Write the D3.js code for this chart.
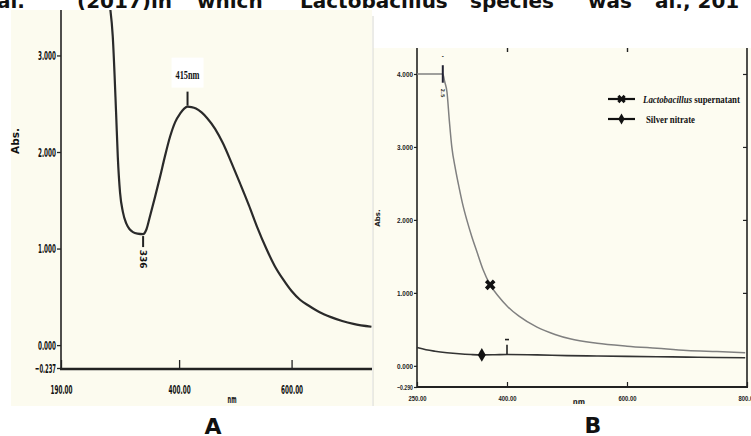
<!DOCTYPE html>
<html>
<head>
<meta charset="utf-8">
<script src="https://cdn.jsdelivr.net/npm/d3@7"></script>
<style>
  body { margin: 0; background: #fff; }
  svg { display: block; }
</style>
</head>
<body>
<div id="chart"></div>
<script>
const width = 751;
const height = 436;

// running text cut off at the top of the page
const captionWords = ["al.", "(2017)in", "which", "Lactobacillus", "species", "was", "al., 201"];

// panel A: UV-vis spectrum of the nanoparticles
const wavelengthA = [276, 282, 288, 291, 295, 300, 306, 312, 318, 326, 336, 342, 348, 357, 366, 375, 384, 393, 402, 409, 415, 422, 430, 440, 450, 464, 478, 493, 508, 524, 539, 555, 570, 585, 600, 615, 630, 650, 670, 690, 710, 742];
const absorbanceA = [3.55, 3.2, 2.4, 1.95, 1.58, 1.38, 1.26, 1.2, 1.17, 1.155, 1.15, 1.2, 1.33, 1.53, 1.74, 1.96, 2.16, 2.31, 2.40, 2.45, 2.47, 2.465, 2.45, 2.41, 2.35, 2.24, 2.09, 1.89, 1.68, 1.45, 1.22, 1.0, 0.82, 0.68, 0.56, 0.47, 0.41, 0.34, 0.29, 0.25, 0.22, 0.19];
const peakA = { nm: 415, label: "415nm" };
const valleyA = { nm: 336, label: "336" };
const yTicksA = [-0.237, 0, 1, 2, 3];
const xTicksA = [190, 400, 600];

// panel B: supernatant vs silver nitrate
const seriesNames = ["Lactobacillus supernatant", "Silver nitrate"];
const wavelengthLacto = [250, 270, 293, 296, 300, 304, 308, 314, 320, 326, 333, 341, 350, 360, 372, 386, 400, 420, 450, 480, 505, 550, 600, 650, 700, 750, 797];
const absorbanceLacto = [4.0, 4.0, 4.0, 3.9, 3.75, 3.35, 3.0, 2.7, 2.45, 2.22, 2.0, 1.78, 1.56, 1.32, 1.11, 0.95, 0.82, 0.68, 0.53, 0.43, 0.37, 0.31, 0.27, 0.24, 0.21, 0.195, 0.18];
const wavelengthSilver = [250, 265, 280, 300, 320, 340, 358, 380, 400, 450, 500, 550, 600, 650, 700, 750, 797];
const absorbanceSilver = [0.25, 0.22, 0.2, 0.18, 0.165, 0.155, 0.15, 0.152, 0.155, 0.15, 0.14, 0.135, 0.13, 0.125, 0.12, 0.115, 0.11];
const markerLacto = 372;
const markerSilver = 358;
const yTicksB = [-0.29, 0, 1, 2, 3, 4];
const xTicksB = [250, 400, 600, 800];

const svg = d3.select("#chart")
    .append("svg")
    .attr("width", width)
    .attr("height", height)
    .style("font-family", "'DejaVu Sans', sans-serif");

svg.append("rect").attr("width", width).attr("height", height).attr("fill", "#fff");

// caption words, justified across the line
const wordX = [-3, 77, 197, 300, 470, 588, 655];
svg.append("g")
    .selectAll("text")
    .data(captionWords)
    .join("text")
    .attr("x", (d, i) => wordX[i])
    .attr("y", 8)
    .attr("font-size", 20)
    .attr("font-weight", "bold")
    .attr("fill", "#111")
    .text(d => d);

// ---------- panel A ----------
const panelA = svg.append("g");
panelA.append("rect")
    .attr("x", 11).attr("y", 10)
    .attr("width", 361).attr("height", 396)
    .attr("fill", "#fcfbef");

const xA = d3.scaleLinear().domain([190, 743]).range([61, 372]);
const yA = d3.scaleLinear().domain([-0.237, 3.45]).range([368, 12]);

panelA.append("clipPath").attr("id", "clipA")
    .append("rect").attr("x", 61).attr("y", 10).attr("width", 311).attr("height", 360);

const lineA = d3.line()
    .x(d => xA(d[0]))
    .y(d => yA(d[1]))
    .curve(d3.curveMonotoneX);

panelA.append("path")
    .datum(d3.zip(wavelengthA, absorbanceA))
    .attr("clip-path", "url(#clipA)")
    .attr("d", lineA)
    .attr("fill", "none")
    .attr("stroke", "#2a2a2a")
    .attr("stroke-width", 2.2);

const axisLeftA = panelA.append("g")
    .attr("transform", "translate(61,0)")
    .call(d3.axisLeft(yA).tickValues(yTicksA).tickFormat(d3.format(".3f")).tickSize(4).tickPadding(1));
axisLeftA.select(".domain").remove();
axisLeftA.selectAll("line").attr("stroke", "#222").attr("stroke-width", 1.3);
axisLeftA.selectAll("text")
    .attr("font-size", 13).attr("font-weight", "bold")
    .attr("font-family", "'DejaVu Sans Condensed', 'DejaVu Sans', sans-serif")
    .attr("fill", "#111")
    .attr("textLength", d => d < 0 ? 21 : 18)
    .attr("lengthAdjust", "spacingAndGlyphs");

panelA.append("line")
    .attr("x1", 61).attr("x2", 61).attr("y1", 10).attr("y2", 369)
    .attr("stroke", "#222").attr("stroke-width", 1.6);

const axisBottomA = panelA.append("g")
    .attr("transform", "translate(0,369)")
    .call(d3.axisBottom(xA).tickValues(xTicksA).tickFormat(d3.format(".2f")).tickSizeInner(-9).tickSizeOuter(0).tickPadding(16));
axisBottomA.select(".domain").remove();
axisBottomA.selectAll("line").attr("stroke", "#222").attr("stroke-width", 1.3);
axisBottomA.selectAll("text")
    .attr("font-size", 13).attr("font-weight", "bold")
    .attr("font-family", "'DejaVu Sans Condensed', 'DejaVu Sans', sans-serif")
    .attr("fill", "#111")
    .attr("textLength", 22)
    .attr("lengthAdjust", "spacingAndGlyphs");

panelA.append("line")
    .attr("x1", 60).attr("x2", 372).attr("y1", 369).attr("y2", 369)
    .attr("stroke", "#222").attr("stroke-width", 2.6);

panelA.append("text")
    .attr("transform", "translate(19,141) rotate(-90)")
    .attr("text-anchor", "middle")
    .attr("font-size", 11).attr("font-weight", "bold")
    .attr("fill", "#111")
    .attr("textLength", 26).attr("lengthAdjust", "spacingAndGlyphs")
    .text("Abs.");

panelA.append("text")
    .attr("x", 232).attr("y", 403)
    .attr("text-anchor", "middle")
    .attr("font-size", 10).attr("font-weight", "bold")
    .attr("fill", "#111")
    .attr("textLength", 9).attr("lengthAdjust", "spacingAndGlyphs")
    .text("nm");

// peak and valley markers
const peakY = yA(absorbanceA[wavelengthA.indexOf(peakA.nm)]);
panelA.append("line")
    .attr("x1", xA(peakA.nm)).attr("x2", xA(peakA.nm))
    .attr("y1", peakY - 15).attr("y2", peakY - 1)
    .attr("stroke", "#222").attr("stroke-width", 2);
panelA.append("rect")
    .attr("x", xA(peakA.nm) - 16).attr("y", peakY - 49)
    .attr("width", 32).attr("height", 30)
    .attr("fill", "#fff");
panelA.append("text")
    .attr("x", xA(peakA.nm)).attr("y", peakY - 28)
    .attr("text-anchor", "middle")
    .attr("font-size", 13).attr("font-weight", "bold")
    .attr("font-family", "'Liberation Serif', serif")
    .attr("fill", "#111")
    .attr("textLength", 24).attr("lengthAdjust", "spacingAndGlyphs")
    .text(peakA.label);

const valleyY = yA(absorbanceA[wavelengthA.indexOf(valleyA.nm)]);
panelA.append("line")
    .attr("x1", xA(valleyA.nm)).attr("x2", xA(valleyA.nm))
    .attr("y1", valleyY + 2).attr("y2", valleyY + 13)
    .attr("stroke", "#222").attr("stroke-width", 2);
panelA.append("text")
    .attr("transform", `translate(${xA(valleyA.nm) - 3},${valleyY + 25}) rotate(90)`)
    .attr("text-anchor", "middle")
    .attr("font-size", 9).attr("font-weight", "bold")
    .attr("fill", "#111")
    .text(valleyA.label);

// ---------- panel B ----------
const panelB = svg.append("g");
panelB.append("rect")
    .attr("x", 373).attr("y", 48)
    .attr("width", 378).attr("height", 358)
    .attr("fill", "#fdfcf1");
svg.append("line")
    .attr("x1", 373).attr("x2", 373).attr("y1", 16).attr("y2", 406)
    .attr("stroke", "#d8d8d0").attr("stroke-width", 1);

const xB = d3.scaleLinear().domain([250, 800]).range([417, 747]);
const yB = d3.scaleLinear().domain([-0.29, 4.356]).range([387, 48]);

const axisLeftB = panelB.append("g")
    .attr("transform", "translate(417,0)")
    .call(d3.axisLeft(yB).tickValues(yTicksB).tickFormat(d3.format(".3f")).tickSize(3).tickPadding(1));
axisLeftB.select(".domain").remove();
axisLeftB.selectAll("line").attr("stroke", "#222").attr("stroke-width", 1.2);
axisLeftB.selectAll("text")
    .attr("font-size", 7).attr("font-weight", "bold")
    .attr("fill", "#222")
    .attr("dy", "0.35em")
    .attr("textLength", 16)
    .attr("lengthAdjust", "spacingAndGlyphs");

const axisRightB = panelB.append("g")
    .attr("transform", "translate(747,0)")
    .call(d3.axisLeft(yB).tickValues(yTicksB.slice(2)).tickFormat("").tickSize(4));
axisRightB.select(".domain").remove();
axisRightB.selectAll("line").attr("stroke", "#222").attr("stroke-width", 1.2);

const axisTopB = panelB.append("g")
    .attr("transform", "translate(0,48)")
    .call(d3.axisBottom(xB).tickValues([400, 600]).tickFormat("").tickSizeInner(4).tickSizeOuter(0));
axisTopB.select(".domain").remove();
axisTopB.selectAll("line").attr("stroke", "#222").attr("stroke-width", 1.4);

const axisBottomB = panelB.append("g")
    .attr("transform", "translate(0,387)")
    .call(d3.axisBottom(xB).tickValues(xTicksB).tickFormat(d3.format(".2f")).tickSizeInner(-5).tickSizeOuter(0).tickPadding(9));
axisBottomB.select(".domain").remove();
axisBottomB.selectAll("line").attr("stroke", "#222").attr("stroke-width", 1.2);
axisBottomB.selectAll("text")
    .attr("font-size", 7).attr("font-weight", "bold")
    .attr("fill", "#222")
    .attr("textLength", 18)
    .attr("lengthAdjust", "spacingAndGlyphs");

panelB.append("line")
    .attr("x1", 417).attr("x2", 417).attr("y1", 48).attr("y2", 388)
    .attr("stroke", "#222").attr("stroke-width", 1.6);
panelB.append("line")
    .attr("x1", 417).attr("x2", 748).attr("y1", 387).attr("y2", 387)
    .attr("stroke", "#222").attr("stroke-width", 2);
panelB.append("line")
    .attr("x1", 747).attr("x2", 747).attr("y1", 48).attr("y2", 388)
    .attr("stroke", "#222").attr("stroke-width", 1.6);

panelB.append("text")
    .attr("transform", "translate(380,218) rotate(-90)")
    .attr("text-anchor", "middle")
    .attr("font-size", 7).attr("font-weight", "bold")
    .attr("fill", "#222")
    .text("Abs.");
panelB.append("text")
    .attr("x", 579).attr("y", 404)
    .attr("text-anchor", "middle")
    .attr("font-size", 7).attr("font-weight", "bold")
    .attr("fill", "#222")
    .text("nm");

const lineB = d3.line()
    .x(d => xB(d[0]))
    .y(d => yB(d[1]))
    .curve(d3.curveMonotoneX);

panelB.append("path")
    .datum(d3.zip(wavelengthLacto, absorbanceLacto))
    .attr("d", lineB)
    .attr("fill", "none")
    .attr("stroke", "#808080")
    .attr("stroke-width", 1.5);

panelB.append("path")
    .datum(d3.zip(wavelengthSilver, absorbanceSilver))
    .attr("d", lineB)
    .attr("fill", "none")
    .attr("stroke", "#333")
    .attr("stroke-width", 1.6);

// saturation marker on the supernatant curve
panelB.append("line")
    .attr("x1", xB(293)).attr("x2", xB(293))
    .attr("y1", yB(4.12)).attr("y2", yB(3.88))
    .attr("stroke", "#223").attr("stroke-width", 2);
panelB.append("text")
    .attr("x", xB(293)).attr("y", yB(4.22))
    .attr("text-anchor", "middle").attr("font-size", 5).attr("font-weight", "bold")
    .text("-");
panelB.append("text")
    .attr("transform", `translate(${xB(293) - 2},${yB(3.74)}) rotate(90)`)
    .attr("text-anchor", "middle").attr("font-size", 5).attr("font-weight", "bold")
    .attr("fill", "#333")
    .text("2.5");

// small peak pick on the silver nitrate curve
panelB.append("line")
    .attr("x1", xB(400)).attr("x2", xB(400))
    .attr("y1", yB(0.29)).attr("y2", yB(0.16))
    .attr("stroke", "#222").attr("stroke-width", 1.6);
panelB.append("line")
    .attr("x1", xB(400) - 2).attr("x2", xB(400) + 2)
    .attr("y1", yB(0.36)).attr("y2", yB(0.36))
    .attr("stroke", "#222").attr("stroke-width", 1.6);

const crossSymbol = d3.symbol().type(d3.symbolCross).size(70);
const diamondSymbol = d3.symbol().type(d3.symbolDiamond).size(55);

const lactoY = yB(absorbanceLacto[wavelengthLacto.indexOf(markerLacto)]);
const silverY = yB(absorbanceSilver[wavelengthSilver.indexOf(markerSilver)]);

panelB.append("path")
    .attr("d", crossSymbol())
    .attr("transform", `translate(${xB(markerLacto)},${lactoY}) rotate(45)`)
    .attr("fill", "#111");
panelB.append("path")
    .attr("d", diamondSymbol())
    .attr("transform", `translate(${xB(markerSilver)},${silverY})`)
    .attr("fill", "#111");

// legend
const legend = panelB.append("g").attr("transform", "translate(608,99)");
const legendRows = legend.selectAll("g")
    .data(seriesNames)
    .join("g")
    .attr("transform", (d, i) => `translate(0,${i * 20})`);
legendRows.append("line")
    .attr("x1", 0).attr("x2", 27)
    .attr("stroke", "#111").attr("stroke-width", 2.2);
legendRows.append("path")
    .attr("d", (d, i) => i === 0 ? crossSymbol() : diamondSymbol())
    .attr("transform", (d, i) => i === 0 ? "translate(13.5,0) rotate(45) scale(0.8)" : "translate(13.5,0) scale(0.8)")
    .attr("fill", "#111");
const legendText = legendRows.append("text")
    .attr("x", (d, i) => i === 0 ? 35 : 38)
    .attr("dy", "0.35em")
    .attr("font-family", "'Liberation Serif', serif")
    .attr("font-weight", "bold")
    .attr("font-size", 10)
    .attr("fill", "#111")
    .attr("textLength", (d, i) => i === 0 ? 97 : 49)
    .attr("lengthAdjust", "spacingAndGlyphs");
legendText.each(function (d) {
    const t = d3.select(this);
    if (d.startsWith("Lactobacillus")) {
        t.append("tspan").attr("font-style", "italic").text("Lactobacillus");
        t.append("tspan").text(" supernatant");
    } else {
        t.text(d);
    }
});

// panel letters
svg.append("g")
    .selectAll("text")
    .data(["A", "B"])
    .join("text")
    .attr("x", (d, i) => i === 0 ? 213 : 593)
    .attr("y", (d, i) => i === 0 ? 434 : 433)
    .attr("text-anchor", "middle")
    .attr("font-size", 22)
    .attr("font-weight", "bold")
    .attr("fill", "#111")
    .text(d => d);
</script>
</body>
</html>
